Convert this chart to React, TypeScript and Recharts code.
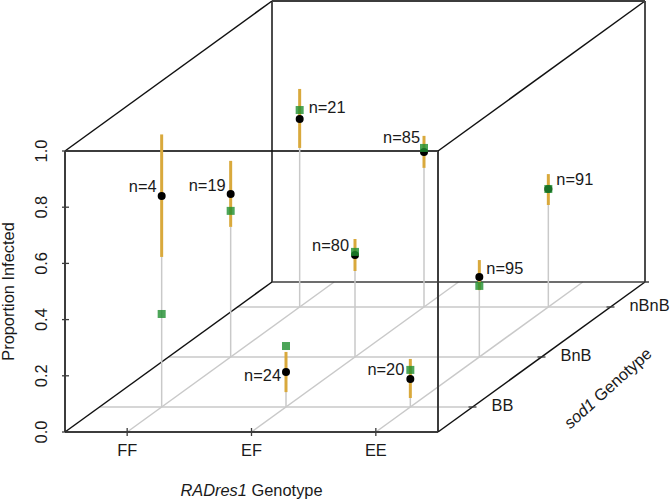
import { Scatter, ScatterChart, XAxis, YAxis } from "recharts"

const radresLevels = ["FF", "EF", "EE"]
const sod1Levels = ["BB", "BnB", "nBnB"]
const proportionTicks = [0, 0.2, 0.4, 0.6, 0.8, 1]

// one entry per cell, radres level first then sod1 level
const cellRadres = [0, 0, 0, 1, 1, 1, 2, 2, 2]
const cellSod1 = [0, 1, 2, 0, 1, 2, 0, 1, 2]
const sampleSizes = [4, 19, 21, 24, 80, 85, 20, 95, 91]
const observed = [0.751, 0.58, 0.669, 0.125, 0.363, 0.552, 0.1, 0.285, 0.42]
const predicted = [0.331, 0.52, 0.701, 0.217, 0.374, 0.566, 0.132, 0.253, 0.42]
const lowerCI = [0.534, 0.463, 0.566, 0.053, 0.306, 0.495, 0.032, 0.238, 0.363]
const upperCI = [0.97, 0.698, 0.776, 0.196, 0.42, 0.609, 0.171, 0.345, 0.473]

const WIDTH = 671
const HEIGHT = 499
// pixel size of the front face and where its lower left corner sits
const FACE_W = 373
const FACE_H = 281
const ORIGIN_X = 65
const ORIGIN_Y = 432
// how far the depth axis shifts things, in face units
const DEPTH_X = 207 / FACE_W
const DEPTH_Y = 150 / FACE_H

const xDomain = [-ORIGIN_X / FACE_W, (WIDTH - ORIGIN_X) / FACE_W]
const yDomain = [-(HEIGHT - ORIGIN_Y) / FACE_H, ORIGIN_Y / FACE_H]

const FONT = "Liberation Sans, Arial, sans-serif"
const FONT_SIZE = 16.4
const BOX = "#3c3c3c"
const EDGE = "#111111"
const GRID = "#c9c9c9"
const GOLD = "#d9a93c"
const GREEN = "#1f8f2f"

// oblique projection of the cube onto the chart plane
const project = (a: number, d: number, z: number) => ({ x: a + d * DEPTH_X, y: z + d * DEPTH_Y })
const levelPos = (i: number) => (2 * i + 1) / 6

const noMark = () => null

const boxLines = [
  { from: [0, 0, 0], to: [1, 0, 0], color: BOX, width: 2 },
  { from: [0, 0, 0], to: [0, 0, 1], color: BOX, width: 2 },
  { from: [1, 0, 0], to: [1, 0, 1], color: BOX, width: 2 },
  { from: [0, 0, 1], to: [1, 0, 1], color: BOX, width: 2 },
  { from: [0, 0, 0], to: [0, 1, 0], color: EDGE, width: 1.5 },
  { from: [1, 0, 0], to: [1, 1, 0], color: EDGE, width: 1.5 },
  { from: [0, 0, 1], to: [0, 1, 1], color: EDGE, width: 1.5 },
  { from: [1, 0, 1], to: [1, 1, 1], color: EDGE, width: 1.5 },
  { from: [0, 1, 0], to: [0, 1, 1], color: EDGE, width: 1.5 },
  { from: [1, 1, 0], to: [1, 1, 1], color: EDGE, width: 1.5 },
  { from: [0, 1, 1], to: [1, 1, 1], color: BOX, width: 2 },
  { from: [0, 1, 0], to: [1 + 4 / FACE_W, 1, 0], color: BOX, width: 1.3 },
]

const gridLines = [
  ...radresLevels.map((_, i) => ({ from: [levelPos(i), 0, 0], to: [levelPos(i), 1, 0] })),
  ...sod1Levels.map((_, i) => ({ from: [0, levelPos(i), 0], to: [1, levelPos(i), 0] })),
]

const tickLines = [
  ...proportionTicks.map((t) => ({ from: [-3 / FACE_W, 0, t], to: [4 / FACE_W, 0, t] })),
  ...radresLevels.map((_, i) => ({ from: [levelPos(i), 0, -4 / FACE_H], to: [levelPos(i), 0, 4 / FACE_H] })),
  ...sod1Levels.map((_, i) => ({ from: [1 - 4 / FACE_W, levelPos(i), 0], to: [1 + 4 / FACE_W, levelPos(i), 0] })),
]

const segment = (from: number[], to: number[]) => [
  project(from[0], from[1], from[2]),
  project(to[0], to[1], to[2]),
]

const cellPoint = (i: number, z: number) => project(levelPos(cellRadres[i]), levelPos(cellSod1[i]), z)

const stems = sampleSizes.map((_, i) => [cellPoint(i, 0), cellPoint(i, lowerCI[i])])
const intervals = sampleSizes.map((_, i) => [cellPoint(i, lowerCI[i]), cellPoint(i, upperCI[i])])
const observedPoints = sampleSizes.map((_, i) => cellPoint(i, observed[i]))
const predictedPoints = sampleSizes.map((_, i) => cellPoint(i, predicted[i]))

// where each n= label goes relative to its black dot, in pixels
const labelSpots = [
  { anchor: "end", dx: -5, dy: -10 },
  { anchor: "end", dx: -5, dy: -9 },
  { anchor: "start", dx: 9, dy: -12 },
  { anchor: "end", dx: -5, dy: 3 },
  { anchor: "end", dx: -6, dy: -10 },
  { anchor: "end", dx: -4, dy: -15 },
  { anchor: "end", dx: -6, dy: -10 },
  { anchor: "start", dx: 7, dy: -9 },
  { anchor: "start", dx: 8, dy: -10 },
]

const textMark = (text: string, opts: { anchor?: string; dx?: number; dy?: number; rotate?: number } = {}) =>
  function TextMark({ cx, cy }: any) {
    const x = cx + (opts.dx ?? 0)
    const y = cy + (opts.dy ?? 0)
    return (
      <text
        x={x}
        y={y}
        dy="0.36em"
        textAnchor={(opts.anchor ?? "middle") as any}
        transform={opts.rotate ? `rotate(${opts.rotate} ${x} ${y})` : undefined}
        fontFamily={FONT}
        fontSize={FONT_SIZE}
        fill="#1a1a1a"
      >
        {text}
      </text>
    )
  }

const squareMark = ({ cx, cy }: any) => (
  <rect x={cx - 4} y={cy - 4} width={8} height={8} fill={GREEN} fillOpacity={0.8} />
)
const dotMark = ({ cx, cy }: any) => <circle cx={cx} cy={cy} r={4} fill="#000" />

function lineSeries(key: string, points: { x: number; y: number }[], color: string, width: number) {
  return (
    <Scatter
      key={key}
      data={points}
      line={{ stroke: color, strokeWidth: width }}
      shape={noMark}
      isAnimationActive={false}
    />
  )
}

function textSeries(key: string, point: { x: number; y: number }, mark: any) {
  return <Scatter key={key} data={[point]} shape={mark} isAnimationActive={false} />
}

export default function App() {
  return (
    <div style={{ position: "absolute", left: 0, top: 0, background: "#fff" }}>
      <ScatterChart width={WIDTH} height={HEIGHT} margin={{ top: 0, right: 0, bottom: 0, left: 0 }}>
        <XAxis type="number" dataKey="x" domain={xDomain} allowDataOverflow hide />
        <YAxis type="number" dataKey="y" domain={yDomain} allowDataOverflow hide />

        {gridLines.map((l, i) => lineSeries(`grid${i}`, segment(l.from, l.to), GRID, 1.5))}
        {boxLines.map((l, i) => lineSeries(`box${i}`, segment(l.from, l.to), l.color, l.width))}
        {tickLines.map((l, i) => lineSeries(`tick${i}`, segment(l.from, l.to), BOX, 1.3))}
        {stems.map((s, i) => lineSeries(`stem${i}`, s, GRID, 1.5))}
        {intervals.map((s, i) => lineSeries(`ci${i}`, s, GOLD, 3))}

        <Scatter data={observedPoints} shape={dotMark} isAnimationActive={false} />
        <Scatter data={predictedPoints} shape={squareMark} isAnimationActive={false} />

        {sampleSizes.map((n, i) => textSeries(`n${i}`, observedPoints[i], textMark(`n=${n}`, labelSpots[i])))}
        {proportionTicks.map((t) =>
          textSeries(`py${t}`, project(0, 0, t), textMark(t.toFixed(1), { dx: -24, rotate: -90 })),
        )}
        {radresLevels.map((name, i) =>
          textSeries(`rx${i}`, project(levelPos(i), 0, 0), textMark(name, { dy: 18 })),
        )}
        {sod1Levels.map((name, i) =>
          textSeries(`sz${i}`, project(1, levelPos(i), 0), textMark(name, { anchor: "start", dx: 19, dy: -2 })),
        )}
        {textSeries("ytitle", project(0, 0, 0.5), textMark("Proportion Infected", { dx: -57, rotate: -90 }))}
        <Scatter
          data={[project(0.5, 0, 0)]}
          isAnimationActive={false}
          shape={({ cx, cy }: any) => (
            <text x={cx} y={cy + 58} dy="0.36em" textAnchor="middle" fontFamily={FONT} fontSize={FONT_SIZE} fill="#1a1a1a">
              <tspan fontStyle="italic">RADres1</tspan> Genotype
            </text>
          )}
        />
        <Scatter
          data={[project(1, 0.5, 0)]}
          isAnimationActive={false}
          shape={({ cx, cy }: any) => (
            <text
              x={cx + 66}
              y={cy + 31}
              dy="0.36em"
              textAnchor="middle"
              transform={`rotate(-42 ${cx + 66} ${cy + 31})`}
              fontFamily={FONT}
              fontSize={FONT_SIZE}
              fill="#1a1a1a"
            >
              <tspan fontStyle="italic">sod1</tspan> Genotype
            </text>
          )}
        />
      </ScatterChart>
    </div>
  )
}
